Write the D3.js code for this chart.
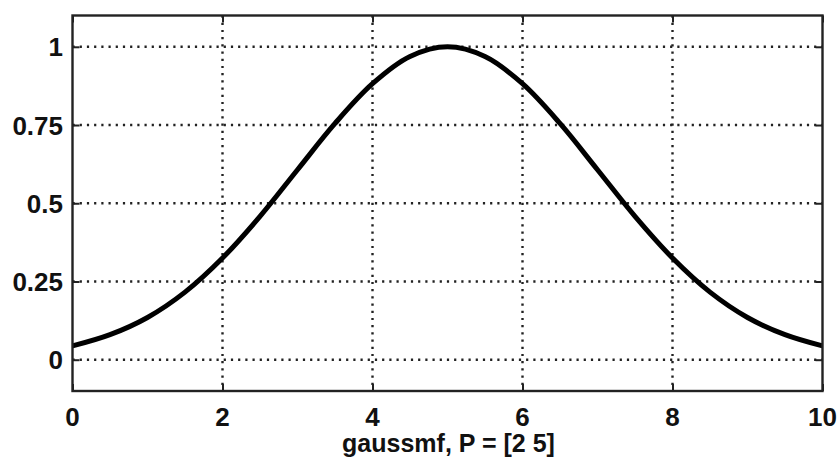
<!DOCTYPE html>
<html><head><meta charset="utf-8">
<script src="https://cdn.jsdelivr.net/npm/d3@7"></script>
<style>body{margin:0;background:#fff;}svg{display:block;}</style>
</head><body>
<svg id="c" width="840" height="457"></svg>
<script>
const xValues = [0,0.5,1,1.5,2,2.5,3,3.5,4,4.5,5,5.5,6,6.5,7,7.5,8,8.5,9,9.5,10];
const yValues = [0.044,0.080,0.135,0.216,0.325,0.458,0.607,0.755,0.882,0.969,1.0,0.969,0.882,0.755,0.607,0.458,0.325,0.216,0.135,0.080,0.044];
const xTicks = [0,2,4,6,8,10];
const yTicks = [0,0.25,0.5,0.75,1];
const yTickLabels = ["0","0.25","0.5","0.75","1"];
const xLabel = "gaussmf, P = [2 5]";

const svg = d3.select("#c");
const L = 72.5, R = 822.5, T = 15.5, B = 391;
const x = d3.scaleLinear().domain([0,10]).range([L,R]);
const y = d3.scaleLinear().domain([-0.1,1.1]).range([B,T]);
const font = "'Liberation Sans', Arial, sans-serif";

// grid
const g = svg.append("g");
g.selectAll(".vg").data(xTicks.slice(1,-1)).enter().append("line")
  .attr("x1",d=>x(d)).attr("x2",d=>x(d)).attr("y1",T).attr("y2",B)
  .attr("stroke","#222").attr("stroke-width",2.4).attr("stroke-dasharray","2.2,5");
g.selectAll(".hg").data(yTicks).enter().append("line")
  .attr("y1",d=>y(d)).attr("y2",d=>y(d)).attr("x1",L).attr("x2",R)
  .attr("stroke","#222").attr("stroke-width",2.4).attr("stroke-dasharray","2.2,5");

// inner ticks via axes
const tl = 7;
svg.append("g").attr("transform",`translate(0,${B})`)
  .call(d3.axisTop(x).tickValues(xTicks).tickSize(tl).tickFormat(""))
  .call(s=>{s.select(".domain").remove();s.selectAll("line").attr("stroke","#222").attr("stroke-width",2);});
svg.append("g").attr("transform",`translate(0,${T})`)
  .call(d3.axisBottom(x).tickValues(xTicks).tickSize(tl).tickFormat(""))
  .call(s=>{s.select(".domain").remove();s.selectAll("line").attr("stroke","#222").attr("stroke-width",2);});
svg.append("g").attr("transform",`translate(${L},0)`)
  .call(d3.axisRight(y).tickValues(yTicks).tickSize(tl).tickFormat(""))
  .call(s=>{s.select(".domain").remove();s.selectAll("line").attr("stroke","#222").attr("stroke-width",2);});
svg.append("g").attr("transform",`translate(${R},0)`)
  .call(d3.axisLeft(y).tickValues(yTicks).tickSize(tl).tickFormat(""))
  .call(s=>{s.select(".domain").remove();s.selectAll("line").attr("stroke","#222").attr("stroke-width",2);});

// tick labels
svg.append("g").selectAll("text").data(xTicks).enter().append("text")
  .attr("x",d=>x(d)).attr("y",425.5).attr("text-anchor","middle")
  .attr("font-family",font).attr("font-weight","bold").attr("font-size",26).attr("fill","#111")
  .text(d=>d);
svg.append("g").selectAll("text").data(yTicks).enter().append("text")
  .attr("x",63).attr("y",d=>y(d)+9.5).attr("text-anchor","end")
  .attr("font-family",font).attr("font-weight","bold").attr("font-size",26).attr("fill","#111")
  .text((d,i)=>yTickLabels[i]);

// x label
svg.append("text").attr("x",(L+R)/2 + 1).attr("y",452).attr("text-anchor","middle")
  .attr("font-family",font).attr("font-weight","bold").attr("font-size",25).attr("fill","#111")
  .text(xLabel);

// curve
const pts = xValues.map((v,i)=>[v,yValues[i]]);
svg.append("path").datum(pts)
  .attr("d", d3.line().x(d=>x(d[0])).y(d=>y(d[1])).curve(d3.curveCatmullRom.alpha(0.5)))
  .attr("fill","none").attr("stroke","#000").attr("stroke-width",5).attr("stroke-linejoin","round");

// box
svg.append("rect").attr("x",L).attr("y",T).attr("width",R-L).attr("height",B-T)
  .attr("fill","none").attr("stroke","#222").attr("stroke-width",2.4);
</script>
</body></html>
